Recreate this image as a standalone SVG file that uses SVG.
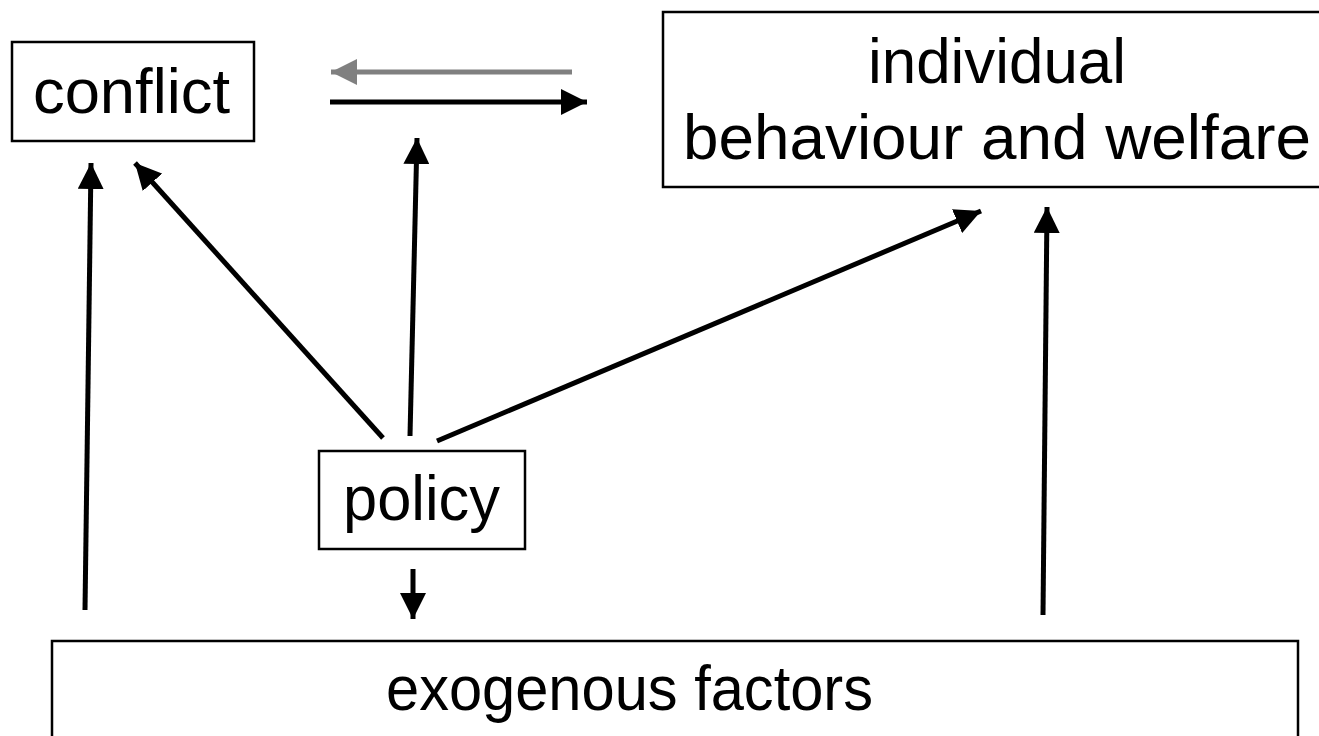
<svg xmlns="http://www.w3.org/2000/svg" width="1319" height="736" viewBox="0 0 1319 736">
<style>
.box{fill:#fff;stroke:#000;stroke-width:2.5}
.lbl{font-family:"Liberation Sans",Arial,sans-serif;font-size:63px;fill:#000;text-anchor:middle}
.edge{stroke:#000;stroke-width:5;fill:none;marker-end:url(#ah)}
.edge.gray{stroke:#808080;marker-end:url(#ahg)}
</style>
<defs>
<marker id="ah" markerUnits="userSpaceOnUse" markerWidth="26" markerHeight="26" refX="26" refY="13" orient="auto" viewBox="0 0 26 26"><path d="M0,0 L26,13 L0,26 z" fill="#000"/></marker>
<marker id="ahg" markerUnits="userSpaceOnUse" markerWidth="26" markerHeight="26" refX="26" refY="13" orient="auto" viewBox="0 0 26 26"><path d="M0,0 L26,13 L0,26 z" fill="#808080"/></marker>
</defs>
<rect width="1319" height="736" fill="#fff"/>
<g id="conflict">
<rect class="box" x="12" y="42" width="242" height="99"/>
<text class="lbl" x="131.5" y="113" textLength="197" lengthAdjust="spacingAndGlyphs">conflict</text>
</g>
<g id="individual">
<rect class="box" x="663" y="12" width="660" height="175"/>
<text class="lbl" x="997" y="83" textLength="258" lengthAdjust="spacingAndGlyphs">individual</text>
<text class="lbl" x="997" y="159" textLength="628" lengthAdjust="spacingAndGlyphs">behaviour and welfare</text>
</g>
<g id="policy">
<rect class="box" x="319" y="451" width="206" height="98"/>
<text class="lbl" x="421.5" y="520" textLength="157" lengthAdjust="spacingAndGlyphs">policy</text>
</g>
<g id="exogenous">
<rect class="box" x="52" y="641" width="1246" height="110"/>
<text class="lbl" x="629.5" y="710" textLength="487" lengthAdjust="spacingAndGlyphs">exogenous factors</text>
</g>
<g id="connectors">
<line class="edge gray" x1="572" y1="72" x2="331" y2="72"/>
<line class="edge" x1="330" y1="102" x2="587" y2="102"/>
<line class="edge" x1="85" y1="610" x2="91" y2="163"/>
<line class="edge" x1="383" y1="438" x2="135" y2="163"/>
<line class="edge" x1="410" y1="436" x2="417" y2="138"/>
<line class="edge" x1="437" y1="441" x2="981" y2="211"/>
<line class="edge" x1="413" y1="569" x2="413" y2="619"/>
<line class="edge" x1="1043" y1="615" x2="1047" y2="207"/>
</g>
</svg>
